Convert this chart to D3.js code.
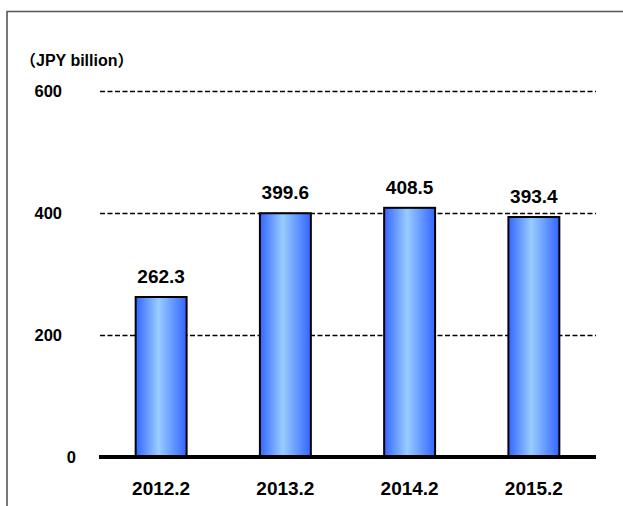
<!DOCTYPE html>
<html>
<head>
<meta charset="utf-8">
<script src="https://cdn.jsdelivr.net/npm/d3@7"></script>
<style>
  html, body { margin: 0; padding: 0; background: #fff; }
  svg { display: block; }
  text { font-family: "Liberation Sans", Arial, "Noto Sans CJK JP", sans-serif; font-weight: bold; fill: #000; }
</style>
</head>
<body>
<svg id="chart" width="623" height="506"></svg>
<script>
const categories = ["2012.2", "2013.2", "2014.2", "2015.2"];
const values = [262.3, 399.6, 408.5, 393.4];
const valueLabels = ["262.3", "399.6", "408.5", "393.4"];
const yTicks = [0, 200, 400, 600];
const yTitle = "（JPY billion）";

const W = 623, H = 506;
const svg = d3.select("#chart");

// frame
svg.append("path")
  .attr("d", `M7,${H} L7,11.5 L${W},11.5`)
  .attr("fill", "none").attr("stroke", "#555").attr("stroke-width", 1.6);

const x = d3.scaleBand().domain(categories).range([99, 596]).paddingInner(0.59).paddingOuter(0.295);
const y = d3.scaleLinear().domain([0, 600]).range([457, 91]);

const defs = svg.append("defs");
const grad = defs.append("linearGradient").attr("id", "barGrad").attr("x1", "0").attr("x2", "1").attr("y1", "0").attr("y2", "0");
grad.append("stop").attr("offset", "0").attr("stop-color", "#3366ff");
grad.append("stop").attr("offset", "0.45").attr("stop-color", "#99ccff");
grad.append("stop").attr("offset", "1").attr("stop-color", "#3366ff");

// gridlines
svg.append("g").selectAll("line").data(yTicks.filter(d => d > 0)).join("line")
  .attr("x1", 100).attr("x2", 596)
  .attr("y1", d => Math.round(y(d)) + 0.5).attr("y2", d => Math.round(y(d)) + 0.5)
  .attr("stroke", "#000").attr("stroke-width", 1.5).attr("stroke-dasharray", "5,2.5");

// y tick labels
svg.append("g").selectAll("text").data(yTicks).join("text")
  .attr("x", d => d === 0 ? 76 : 62)
  .attr("y", d => y(d))
  .attr("dy", "0.36em")
  .attr("text-anchor", "end")
  .attr("font-size", 16.5)
  .text(d => d3.format("d")(d));

// y title
svg.append("text").attr("x", 20).attr("y", 66).attr("font-size", 16).text(yTitle);

// bars
svg.append("g").selectAll("rect").data(values).join("rect")
  .attr("x", (d, i) => x(categories[i]))
  .attr("y", d => y(d))
  .attr("width", x.bandwidth())
  .attr("height", d => y(0) - y(d))
  .attr("fill", "url(#barGrad)")
  .attr("stroke", "#000").attr("stroke-width", 2);

// value labels
svg.append("g").selectAll("text").data(values).join("text")
  .attr("x", (d, i) => x(categories[i]) + x.bandwidth() / 2)
  .attr("y", d => y(d) - 14)
  .attr("text-anchor", "middle")
  .attr("font-size", 19)
  .text((d, i) => valueLabels[i]);

// baseline
svg.append("line").attr("x1", 99).attr("x2", 596).attr("y1", y(0)).attr("y2", y(0))
  .attr("stroke", "#000").attr("stroke-width", 4);

// category labels
svg.append("g").selectAll("text").data(categories).join("text")
  .attr("x", d => x(d) + x.bandwidth() / 2)
  .attr("y", 495)
  .attr("text-anchor", "middle")
  .attr("font-size", 19)
  .text(d => d);
</script>
</body>
</html>
